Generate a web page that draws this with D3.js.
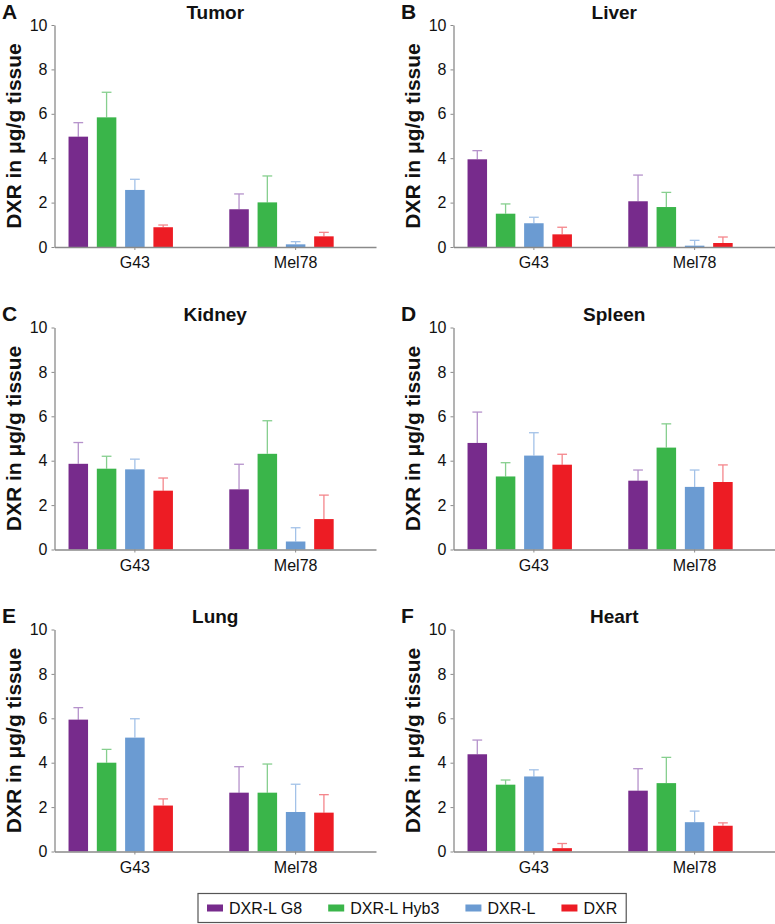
<!DOCTYPE html>
<html>
<head>
<meta charset="utf-8">
<script src="https://cdn.jsdelivr.net/npm/d3@7"></script>
<style>
  html, body { margin: 0; padding: 0; background: #fff; }
  svg { display: block; font-family: "Liberation Sans", Arial, sans-serif; }
</style>
</head>
<body>
<svg id="chart" width="775" height="924"></svg>
<script>
// ---------- data ----------
const groups = ["G43", "Mel78"];
const series = ["DXR-L G8", "DXR-L Hyb3", "DXR-L", "DXR"];
const panelLetters = ["A", "B", "C", "D", "E", "F"];
const panelTitles = ["Tumor", "Liver", "Kidney", "Spleen", "Lung", "Heart"];
const yTicks = [0, 2, 4, 6, 8, 10];
const yLabel = "DXR in \u03bcg/g tissue";

// mean values [G43 group, Mel78 group], each in series order
const tumorMean  = [[4.97, 5.84, 2.57, 0.89], [1.70, 2.01, 0.12, 0.48]];
const tumorSD    = [[0.63, 1.13, 0.48, 0.10], [0.69, 1.19, 0.12, 0.18]];
const liverMean  = [[3.95, 1.50, 1.07, 0.57], [2.06, 1.80, 0.06, 0.18]];
const liverSD    = [[0.39, 0.44, 0.27, 0.32], [1.18, 0.66, 0.24, 0.27]];
const kidneyMean = [[3.86, 3.64, 3.61, 2.65], [2.71, 4.31, 0.36, 1.37]];
const kidneySD   = [[0.96, 0.56, 0.46, 0.57], [1.13, 1.49, 0.62, 1.08]];
const spleenMean = [[4.80, 3.29, 4.23, 3.82], [3.10, 4.59, 2.82, 3.04]];
const spleenSD   = [[1.39, 0.62, 1.03, 0.47], [0.48, 1.07, 0.76, 0.77]];
const lungMean   = [[5.94, 4.00, 5.13, 2.07], [2.65, 2.65, 1.78, 1.75]];
const lungSD     = [[0.54, 0.60, 0.85, 0.30], [1.17, 1.29, 1.25, 0.81]];
const heartMean  = [[4.38, 3.01, 3.38, 0.15], [2.74, 3.08, 1.32, 1.16]];
const heartSD    = [[0.64, 0.21, 0.30, 0.21], [0.99, 1.16, 0.50, 0.13]];

const panelMeans = [tumorMean, liverMean, kidneyMean, spleenMean, lungMean, heartMean];
const panelSDs   = [tumorSD, liverSD, kidneySD, spleenSD, lungSD, heartSD];

// ---------- style ----------
const barColors = ["#772B8C", "#3AB54A", "#6B9BD2", "#ED1C24"];
const errColors = ["#B592CB", "#86CF8E", "#A3C2E8", "#F4868B"];
const axisColor = "#8a8a8a";

const colLeft = [54.5, 453.5];
const rowTop = [25, 327.5, 629.5];
const plotW = 321.5, plotH = 222;

const svg = d3.select("#chart");

panelTitles.forEach((title, i) => {
  const col = i % 2, row = Math.floor(i / 2);
  const g = svg.append("g").attr("transform", `translate(${colLeft[col]},${rowTop[row]})`);

  const y = d3.scaleLinear().domain([0, 10]).range([plotH, 0]);
  const x0 = d3.scaleBand().domain(groups).range([0, plotW]).padding(0);
  const bw = x0.bandwidth();
  const x1 = d3.scaleBand().domain(series)
    .range([bw * 0.06, bw * 0.06 + bw * 0.704])
    .paddingInner(0.31).paddingOuter(0.155);

  const means = panelMeans[i], sds = panelSDs[i];
  const rows = [];
  groups.forEach((grp, gi) => series.forEach((s, si) => {
    rows.push({ grp, s, si, v: means[gi][si], sd: sds[gi][si] });
  }));

  // error bars (behind bars)
  const capW = x1.bandwidth() * 0.5;
  const eg = g.append("g");
  rows.forEach(d => {
    const cx = x0(d.grp) + x1(d.s) + x1.bandwidth() / 2;
    eg.append("line").attr("x1", cx).attr("x2", cx)
      .attr("y1", y(d.v)).attr("y2", y(d.v + d.sd))
      .attr("stroke", errColors[d.si]).attr("stroke-width", 1.3);
    eg.append("line").attr("x1", cx - capW / 2).attr("x2", cx + capW / 2)
      .attr("y1", y(d.v + d.sd)).attr("y2", y(d.v + d.sd))
      .attr("stroke", errColors[d.si]).attr("stroke-width", 1.3);
  });

  g.append("g").selectAll("rect").data(rows).join("rect")
    .attr("x", d => x0(d.grp) + x1(d.s))
    .attr("width", x1.bandwidth())
    .attr("y", d => y(d.v))
    .attr("height", d => plotH - y(d.v))
    .attr("fill", d => barColors[d.si]);

  // axes
  const ya = g.append("g").call(d3.axisLeft(y).tickValues(yTicks).tickFormat(d3.format("d"))
    .tickSize(3).tickSizeOuter(0).tickPadding(4));
  ya.select(".domain").attr("stroke", axisColor).attr("stroke-width", 1.3);
  ya.selectAll(".tick line").attr("stroke", axisColor);
  ya.selectAll("text").attr("font-size", 16).attr("fill", "#111")
    .attr("font-family", "Liberation Sans, Arial, sans-serif");

  const xa = g.append("g").attr("transform", `translate(0,${plotH})`)
    .call(d3.axisBottom(x0).tickSize(3).tickSizeOuter(0).tickPadding(7));
  xa.select(".domain").attr("stroke", axisColor).attr("stroke-width", 1.3);
  xa.selectAll(".tick line").attr("stroke", axisColor);
  xa.selectAll("text").attr("font-size", 16).attr("fill", "#111")
    .attr("font-family", "Liberation Sans, Arial, sans-serif");

  // y label
  g.append("text")
    .attr("transform", `translate(-34,${plotH / 2}) rotate(-90)`)
    .attr("text-anchor", "middle")
    .attr("font-size", 21).attr("font-weight", "bold").attr("fill", "#111")
    .text(yLabel);

  // title
  g.append("text").attr("x", plotW / 2).attr("y", -6.5)
    .attr("text-anchor", "middle").attr("font-size", 19).attr("font-weight", "bold")
    .attr("fill", "#111").text(title);

  // panel letter
  g.append("text").attr("x", -52.5).attr("y", -6.5)
    .attr("font-size", 21).attr("font-weight", "bold").attr("fill", "#111")
    .text(panelLetters[i]);
});

// ---------- legend ----------
const leg = svg.append("g");
const legTop = 893.5, legH = 29, padL = 9, swW = 16, swH = 7;
let cx = 198 + padL;
series.forEach((s, si) => {
  const it = leg.append("g");
  it.append("rect").attr("x", cx).attr("y", legTop + legH / 2 - swH / 2)
    .attr("width", swW).attr("height", swH).attr("fill", barColors[si]);
  const t = it.append("text").attr("x", cx + swW + 6).attr("y", legTop + legH / 2 + 6)
    .attr("font-size", 16).attr("fill", "#111").text(s);
  const tw = t.node().getComputedTextLength();
  cx += swW + 6 + tw + (si < series.length - 1 ? 26 : 0);
});
leg.insert("rect", ":first-child").attr("x", 198).attr("y", legTop)
  .attr("width", cx + padL - 198).attr("height", legH)
  .attr("fill", "none").attr("stroke", "#555").attr("stroke-width", 1.2);
</script>
</body>
</html>
